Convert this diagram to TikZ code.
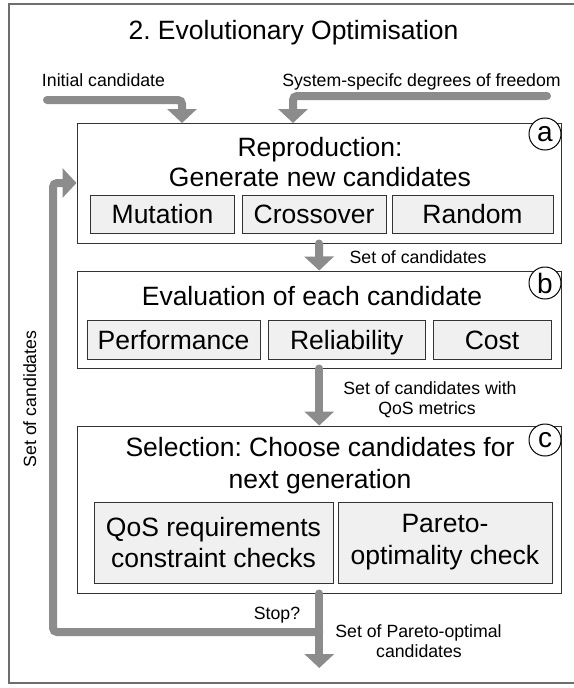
\documentclass[tikz,border=0pt]{standalone}
\usepackage{fontspec}
\setmainfont{Liberation Sans}
\usetikzlibrary{arrows.meta}
\definecolor{arrowgrey}{HTML}{8C8C8C}
\definecolor{subfill}{HTML}{F0F0F0}
\definecolor{framegrey}{HTML}{6E6E6E}
\definecolor{boxline}{HTML}{333333}
\frenchspacing
\begin{document}
\begin{tikzpicture}[x=1pt,y=-1pt,
  bigtext/.style={font=\fontsize{26.5}{31.8}\selectfont, inner sep=0pt, anchor=base},
  smalltext/.style={font=\fontsize{17.7}{21}\selectfont, inner sep=0pt, anchor=base},
  mainbox/.style={draw=boxline, line width=1pt, fill=white, inner sep=0pt, rectangle},
  subbox/.style={draw=boxline, line width=0.9pt, fill=subfill, inner sep=0pt, rectangle,
    font=\fontsize{26.5}{31.8}\selectfont, text height=19pt, text depth=0pt},
  subboxtwo/.style={draw=boxline, line width=0.9pt, fill=subfill, inner sep=0pt, rectangle,
    font=\fontsize{26.5}{31.8}\selectfont, align=center},
  tag/.style={draw=black, line width=1pt, fill=white, circle, minimum size=32pt, inner sep=0pt,
    font=\fontsize{28}{30}\selectfont},
  flow/.style={draw=arrowgrey, line width=8pt, line cap=round, rounded corners=4pt,
    -{Triangle[width=29pt,length=14pt]}},
]
\useasboundingbox (0,0) rectangle (573,688);
\fill[white] (0,0) rectangle (573,688);
\draw[framegrey, line width=1.2pt] (9,4) rectangle (575,683);

% title and input labels
\node[bigtext] (title) at (293.5,39) {2. Evolutionary Optimisation};
\node[smalltext] (iclabel) at (103.5,86) {Initial candidate};
\node[smalltext] (syslabel) at (421.5,86) {System-specifc degrees of freedom};

% main boxes
\node[mainbox, minimum width=484pt, minimum height=120pt] (boxa) at (319,183) {};
\node[mainbox, minimum width=483.5pt, minimum height=97pt] (boxb) at (319.25,319.5) {};
\node[mainbox, minimum width=483.5pt, minimum height=167pt] (boxc) at (319.25,509.5) {};

% box a
\node[bigtext] (atitle1) at (320,156) {Reproduction:};
\node[bigtext] (atitle2) at (320,186) {Generate new candidates};
\node[subbox, minimum width=144pt, minimum height=37.5pt] (mut) at (162.5,214.25) {Mutation};
\node[subbox, minimum width=144pt, minimum height=37.5pt] (cross) at (314,214.25) {Crossover};
\node[subbox, minimum width=161pt, minimum height=37.5pt] (rand) at (472.5,214.25) {Random};

% box b
\node[bigtext] (btitle) at (312,305) {Evaluation of each candidate};
\node[subbox, minimum width=173pt, minimum height=39pt] (perf) at (173.5,339.5) {Performance};
\node[subbox, minimum width=156.5pt, minimum height=39pt] (rel) at (346.75,339.5) {Reliability};
\node[subbox, minimum width=118pt, minimum height=39pt] (cost) at (492,339.5) {Cost};

% box c
\node[bigtext] (ctitle1) at (320,456) {Selection: Choose candidates for};
\node[bigtext] (ctitle2) at (320,488) {next generation};
\node[subboxtwo, minimum width=239pt, minimum height=81pt] (qos) at (213.5,542.5) {QoS requirements\\constraint checks};
\node[subboxtwo, minimum width=214pt, minimum height=81pt] (pareto) at (445,542.5) {Pareto-\\optimality check};

% tags
\node[tag] (taga) at (545,134) {a};
\node[tag] (tagb) at (545,283) {b};
\node[tag] (tagc) at (545,440) {c};

% connectors
\coordinate (icstart) at (47,100);
\coordinate (ictip) at (182,123);
\draw[flow] (icstart) -| (ictip);
\coordinate (sysstart) at (547,96);
\coordinate (systip) at (293,123);
\draw[flow] (sysstart) -| (systip);
\draw[flow] (boxa.south) -- (boxb.north);
\draw[flow] (boxb.south) -- (boxc.north);
\coordinate (outtip) at (319.25,668);
\draw[flow] (boxc.south) -- (outtip);
\coordinate (loopstart) at (319.25,632);
\coordinate (loopcorner) at (53,183);
\draw[flow] (loopstart) -| (loopcorner) -- (boxa.west);

% connector labels
\node[smalltext] (lab1) at (418,263) {Set of candidates};
\node[smalltext] (lab2a) at (430,394) {Set of candidates with};
\node[smalltext] (lab2b) at (427,414) {QoS metrics};
\node[smalltext] (stop) at (277,619) {Stop?};
\node[smalltext] (lab3a) at (418.5,637) {Set of Pareto-optimal};
\node[smalltext] (lab3b) at (419,657) {candidates};
\node[smalltext, rotate=90] (looplab) at (36,399) {Set of candidates};
\end{tikzpicture}
\end{document}
